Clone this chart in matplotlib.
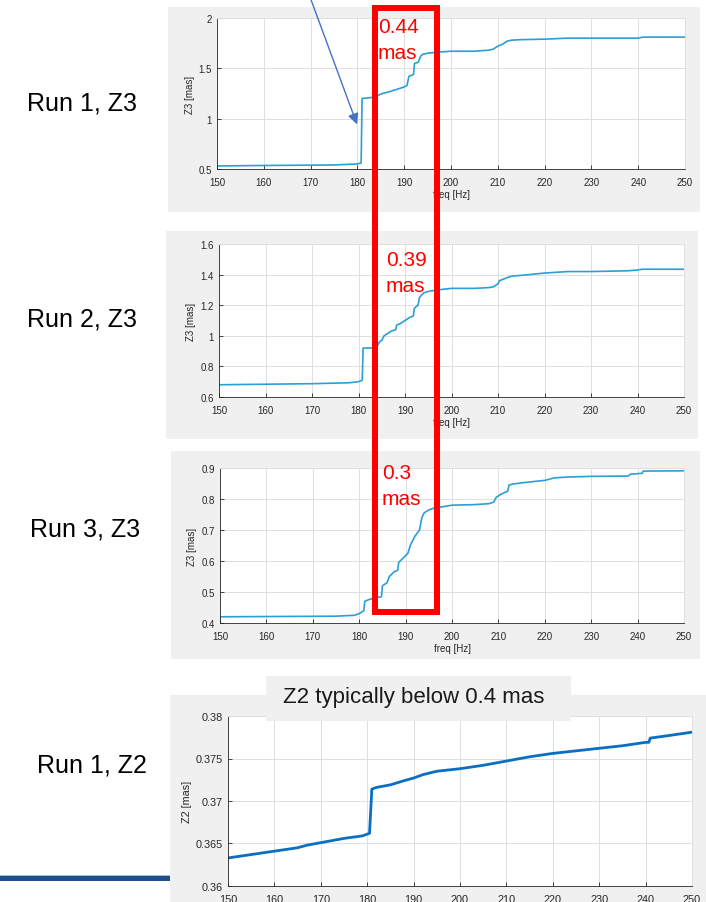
import numpy as np
import matplotlib
matplotlib.use("Agg")
import matplotlib.pyplot as plt
from matplotlib.patches import Rectangle, FancyArrowPatch

plt.rcParams['font.family'] = ['Liberation Sans', 'DejaVu Sans']

W, H = 706, 903

# Z3, run 1
f1 = [150, 160, 170, 175, 180, 180.8, 181.0, 183, 184, 185, 187, 189, 190, 190.6, 191.0,
      192, 192.2, 193, 193.5, 194, 195, 197, 200, 205, 208, 209, 210, 211, 212, 213,
      215, 220, 225, 240, 241, 250]
z1 = [0.53, 0.535, 0.538, 0.54, 0.55, 0.56, 1.2, 1.21, 1.22, 1.245, 1.27, 1.30, 1.315, 1.33, 1.42,
      1.44, 1.55, 1.56, 1.62, 1.64, 1.65, 1.66, 1.67, 1.67, 1.68, 1.69, 1.72, 1.74, 1.77, 1.78,
      1.785, 1.79, 1.80, 1.80, 1.81, 1.81]

# Z3, run 2
f2 = [150, 170, 178, 180, 180.8, 181.0, 183, 184, 184.5, 185, 185.5, 186, 187, 188, 188.2,
      189, 190, 191, 191.8, 192.0, 192.8, 193.1, 194, 195, 197, 200, 205, 208, 209, 210,
      210.3, 212, 213, 215, 220, 225, 230, 238, 240, 241, 250]
z2 = [0.68, 0.687, 0.693, 0.70, 0.71, 0.92, 0.92, 0.93, 0.96, 0.97, 1.0, 1.01, 1.03, 1.04, 1.07,
      1.08, 1.10, 1.12, 1.13, 1.18, 1.20, 1.25, 1.28, 1.29, 1.30, 1.31, 1.31, 1.315, 1.32, 1.34,
      1.36, 1.38, 1.39, 1.395, 1.41, 1.42, 1.42, 1.425, 1.43, 1.435, 1.435]

# Z3, run 3
f3 = [150, 175, 179, 180, 181, 181.2, 182, 183, 184.8, 185, 186, 186.5, 187.5, 188.3, 188.5,
      189.5, 190.5, 191, 192, 193, 193.5, 194, 195, 196, 198, 200, 205, 208, 209, 209.5,
      210.5, 212, 212.3, 213, 215, 218, 220, 222, 225, 230, 238, 238.5, 241, 241.2, 250]
z3 = [0.42, 0.422, 0.425, 0.43, 0.44, 0.47, 0.475, 0.48, 0.485, 0.52, 0.53, 0.55, 0.565, 0.57, 0.595,
      0.61, 0.625, 0.65, 0.68, 0.70, 0.74, 0.755, 0.765, 0.77, 0.775, 0.78, 0.782, 0.785, 0.79, 0.805,
      0.815, 0.825, 0.845, 0.848, 0.852, 0.857, 0.86, 0.868, 0.871, 0.873, 0.874, 0.88, 0.883, 0.89, 0.891]

# Z2, run 1
f4 = [150, 155, 160, 165, 167, 170, 175, 179, 180.5, 181.0, 182, 185, 188, 190, 192, 195,
      200, 205, 210, 215, 220, 225, 230, 235, 240, 240.7, 241.0, 245, 250]
z4 = [0.3633, 0.3637, 0.3641, 0.3645, 0.3648, 0.3651, 0.3656, 0.3659, 0.3662, 0.3714, 0.3716,
      0.3719, 0.3724, 0.3727, 0.3731, 0.3735, 0.3738, 0.3742, 0.3747, 0.3752, 0.3756, 0.3759,
      0.3762, 0.3765, 0.3769, 0.3769, 0.3774, 0.3777, 0.3781]

xticks = [150, 160, 170, 180, 190, 200, 210, 220, 230, 240, 250]


def fbox(x0, y0, x1, y1):
    return [x0 / W, 1 - y1 / H, (x1 - x0) / W, (y1 - y0) / H]


def fx(x):
    return x / W


def fy(y):
    return 1 - y / H


fig = plt.figure(figsize=(W / 100, H / 100), dpi=100)

# grey panel backgrounds
for x0, y0, x1, y1 in [(168, 8, 700, 213), (166, 232, 698, 440),
                       (171, 452, 700, 660), (170, 696, 706, 903)]:
    fig.patches.append(Rectangle((fx(x0), fy(y1)), (x1 - x0) / W, (y1 - y0) / H,
                                 transform=fig.transFigure, facecolor='#f0f0f0',
                                 edgecolor='none', zorder=-2))


def panel(box, f, z, ylim, yticks, ylabels, ylab, color, lw, fs, xlabel=True):
    ax = fig.add_axes(fbox(*box))
    ax.plot(f, z, color=color, lw=lw)
    ax.set_xlim(150, 250)
    ax.set_ylim(*ylim)
    ax.set_xticks(xticks)
    ax.set_yticks(yticks)
    ax.set_yticklabels(ylabels)
    ax.grid(True, color='#dedede', lw=0.7)
    ax.set_axisbelow(True)
    ax.tick_params(direction='in', length=3, width=0.6, labelsize=fs,
                   colors='#262626')
    ax.tick_params(axis='x', pad=5.5)
    ax.tick_params(axis='y', pad=3.5)
    for s in ['top', 'right']:
        ax.spines[s].set_color('#dedede')
        ax.spines[s].set_linewidth(0.7)
    for s in ['left', 'bottom']:
        ax.spines[s].set_color('#262626')
        ax.spines[s].set_linewidth(0.6)
    ax.set_ylabel(ylab, fontsize=fs, color='#262626', labelpad=3)
    if xlabel:
        ax.set_xlabel('freq [Hz]', fontsize=fs, color='#262626', labelpad=2)
    return ax


c3 = '#2a9fd8'
panel((217, 19, 685, 170), f1, z1, (0.5, 2), [0.5, 1, 1.5, 2],
      ['0.5', '1', '1.5', '2'], 'Z3 [mas]', c3, 1.2, 7)
panel((219, 245, 684, 398), f2, z2, (0.6, 1.6), [0.6, 0.8, 1, 1.2, 1.4, 1.6],
      ['0.6', '0.8', '1', '1.2', '1.4', '1.6'], 'Z3 [mas]', c3, 1.2, 7)
panel((220, 469, 684, 624), f3, z3, (0.4, 0.9), [0.4, 0.5, 0.6, 0.7, 0.8, 0.9],
      ['0.4', '0.5', '0.6', '0.7', '0.8', '0.9'], 'Z3 [mas]', c3, 1.2, 7)
panel((228, 717, 692, 887), f4, z4, (0.36, 0.38), [0.36, 0.365, 0.37, 0.375, 0.38],
      ['0.36', '0.365', '0.37', '0.375', '0.38'], 'Z2 [mas]', '#0a6fc2', 2.0, 7.8,
      xlabel=False)

# run labels on the left
for txt, x, y in [('Run 1, Z3', 82, 103), ('Run 2, Z3', 82, 319),
                  ('Run 3, Z3', 85, 529), ('Run 1, Z2', 92, 766)]:
    fig.text(fx(x), fy(y), txt, fontsize=18, ha='center', va='center', color='black')

# title box for Z2 panel
fig.patches.append(Rectangle((fx(266), fy(722)), (571 - 266) / W, (722 - 677) / H,
                             transform=fig.transFigure, facecolor='#f0f0f0',
                             edgecolor='none', zorder=3))
fig.text(fx(414), fy(698), 'Z2 typically below 0.4 mas', fontsize=16,
         ha='center', va='center', color='#1a1a1a', zorder=4)

# red frame over the 184-197 Hz band
fig.patches.append(Rectangle((fx(375), fy(613)), (437 - 375) / W, (613 - 9) / H,
                             transform=fig.transFigure, facecolor='none',
                             edgecolor='#ff0000', lw=4.3, zorder=5))
for val, x, yb in [('0.44', 378, 33), ('0.39', 386, 266), ('0.3', 382, 479)]:
    fig.text(fx(x), fy(yb), val, fontsize=15, color='#ff0000', va='baseline', zorder=6)
    fig.text(fx(x), fy(yb + 26), 'mas', fontsize=15, color='#ff0000', va='baseline', zorder=6)

# arrow pointing at the jump near 181 Hz
fig.patches.append(FancyArrowPatch((fx(310), fy(-2)), (fx(358), fy(128)),
                                   transform=fig.transFigure, arrowstyle='-|>',
                                   mutation_scale=16, color='#4472c4', lw=1.0, zorder=6))

# blue rule at the bottom left
fig.patches.append(Rectangle((0, fy(882)), fx(170), 5 / H, transform=fig.transFigure,
                             facecolor='#1f4e8c', edgecolor='none', zorder=2))
fig.patches.append(Rectangle((0, fy(877)), fx(170), 1.0 / H, transform=fig.transFigure,
                             facecolor='#a9bad3', edgecolor='none', zorder=2))

fig.savefig('out.png', dpi=100)
